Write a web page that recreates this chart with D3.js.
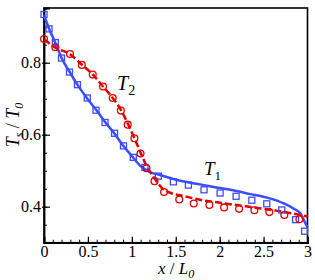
<!DOCTYPE html>
<html>
<head>
<meta charset="utf-8">
<script src="https://cdn.jsdelivr.net/npm/d3@7"></script>
<style>
  body { margin: 0; background: #fff; }
  text { font-family: "Liberation Serif", "DejaVu Serif", serif; fill: #000; }
</style>
</head>
<body>
<div id="chart"></div>
<script>
// T1 simulation (blue squares)
var t1X = [0, 0.057, 0.129, 0.199, 0.290, 0.381, 0.493, 0.592, 0.695, 0.803, 0.905, 1.017,
           1.150, 1.302, 1.473, 1.644, 1.822, 2.005, 2.187, 2.366, 2.536, 2.707, 2.864, 2.967];
var t1Y = [0.934, 0.894, 0.856, 0.813, 0.774, 0.739, 0.702, 0.668, 0.634, 0.604, 0.569, 0.537,
           0.509, 0.485, 0.469, 0.460, 0.447, 0.438, 0.429, 0.418, 0.408, 0.391, 0.364, 0.332];

// T2 simulation (red circles)
var t2X = [0, 0.129, 0.296, 0.431, 0.555, 0.672, 0.782, 0.875, 0.953, 1.029, 1.099, 1.167,
           1.258, 1.367, 1.540, 1.705, 1.883, 2.050, 2.221, 2.395, 2.566, 2.736, 2.908];
var t2Y = [0.866, 0.843, 0.824, 0.794, 0.767, 0.734, 0.702, 0.667, 0.628, 0.590, 0.548, 0.507,
           0.471, 0.441, 0.420, 0.409, 0.405, 0.398, 0.394, 0.390, 0.385, 0.377, 0.365];

// T1 model (blue solid line)
var line1X = [0, 0.06, 0.13, 0.2, 0.29, 0.38, 0.49, 0.6, 0.7, 0.8, 0.9, 1.0, 1.1, 1.2, 1.32,
              1.55, 1.78, 2.0, 2.12, 2.35, 2.57, 2.73, 2.84, 2.92, 2.97, 3.0];
var line1Y = [0.932, 0.893, 0.855, 0.813, 0.775, 0.739, 0.701, 0.667, 0.634, 0.604, 0.570, 0.541,
              0.513, 0.497, 0.488, 0.472, 0.462, 0.452, 0.447, 0.435, 0.423, 0.409, 0.395, 0.381,
              0.357, 0.343];

// T2 model (red dashed line)
var line2X = [0, 0.13, 0.3, 0.43, 0.56, 0.67, 0.78, 0.88, 0.96, 1.03, 1.1, 1.17, 1.25, 1.37,
              1.62, 1.8, 1.95, 2.12, 2.3, 2.5, 2.7, 2.92, 3.0];
var line2Y = [0.865, 0.842, 0.823, 0.795, 0.766, 0.734, 0.703, 0.667, 0.628, 0.590, 0.550, 0.512,
              0.482, 0.446, 0.428, 0.418, 0.413, 0.407, 0.401, 0.394, 0.387, 0.377, 0.373];

var xTicks = [0, 0.5, 1, 1.5, 2, 2.5, 3];
var xTickLabels = ["0", "0.5", "1", "1.5", "2", "2.5", "3"];
var yTicks = [0.4, 0.6, 0.8];
var yTickLabels = ["0.4", "0.6", "0.8"];

var blue = "#3b4dff", red = "#e00000";

var width = 315, height = 280;
var mLeft = 44, mRight = 307.5, mTop = 8, mBottom = 242.7;

var svg = d3.select("#chart")
    .append("svg")
    .attr("width", width)
    .attr("height", height);

var x = d3.scaleLinear().domain([0, 3]).range([mLeft, mRight]);
var y = d3.scaleLinear().domain([0.3, 0.952]).range([mBottom, mTop]);

// plot frame
svg.append("rect")
    .attr("x", mLeft).attr("y", mTop)
    .attr("width", mRight - mLeft).attr("height", mBottom - mTop)
    .attr("fill", "none").attr("stroke", "#000").attr("stroke-width", 1.6);

// x axis, ticks inward
var xAxis = d3.axisBottom(x).tickValues(xTicks).tickSize(-6)
    .tickFormat(function(d, i) { return xTickLabels[i]; });
var gx = svg.append("g")
    .attr("transform", "translate(0," + mBottom + ")")
    .call(xAxis);
gx.select(".domain").attr("stroke-width", 1.8);
gx.selectAll(".tick line").attr("stroke-width", 1.2);
gx.selectAll(".tick text")
    .attr("y", 14).attr("dy", null)
    .style("font-size", "16px").style("font-family", "Liberation Serif");

var xMinor = d3.axisBottom(x).tickValues(d3.range(0, 3.001, 0.1)).tickSize(-3).tickFormat("");
svg.append("g")
    .attr("transform", "translate(0," + mBottom + ")")
    .call(xMinor)
    .call(function(g) { g.select(".domain").remove(); });

// y axis, ticks inward
var yAxis = d3.axisLeft(y).tickValues(yTicks).tickSize(-6)
    .tickFormat(function(d, i) { return yTickLabels[i]; });
var gy = svg.append("g")
    .attr("transform", "translate(" + mLeft + ",0)")
    .call(yAxis);
gy.select(".domain").attr("stroke-width", 1.8);
gy.selectAll(".tick line").attr("x1", -2).attr("stroke-width", 1.2);
gy.selectAll(".tick text")
    .attr("x", -3)
    .style("font-size", "16px").style("font-family", "Liberation Serif");

var yMinor = d3.axisLeft(y).tickValues(d3.range(0.3, 0.951, 0.05)).tickSize(-3).tickFormat("");
svg.append("g")
    .attr("transform", "translate(" + mLeft + ",0)")
    .call(yMinor)
    .call(function(g) { g.select(".domain").remove(); });

// lines
var lineGen = d3.line()
    .x(function(d) { return x(d[0]); })
    .y(function(d) { return y(d[1]); })
    .curve(d3.curveMonotoneX);

svg.append("path")
    .datum(d3.zip(line1X, line1Y))
    .attr("d", lineGen)
    .attr("fill", "none")
    .attr("stroke", blue)
    .attr("stroke-width", 2.5);

svg.append("path")
    .datum(d3.zip(line2X, line2Y))
    .attr("d", lineGen)
    .attr("fill", "none")
    .attr("stroke", red)
    .attr("stroke-width", 2.5)
    .attr("stroke-dasharray", "7,3");

// markers
svg.selectAll(".sq")
    .data(d3.zip(t1X, t1Y))
    .enter()
    .append("rect")
    .attr("class", "sq")
    .attr("x", function(d) { return x(d[0]) - 3; })
    .attr("y", function(d) { return y(d[1]) - 3; })
    .attr("width", 6)
    .attr("height", 6)
    .attr("fill", "none")
    .attr("stroke", blue)
    .attr("stroke-width", 1.3);

svg.selectAll(".ci")
    .data(d3.zip(t2X, t2Y))
    .enter()
    .append("circle")
    .attr("class", "ci")
    .attr("cx", function(d) { return x(d[0]); })
    .attr("cy", function(d) { return y(d[1]); })
    .attr("r", 3.4)
    .attr("fill", "none")
    .attr("stroke", red)
    .attr("stroke-width", 1.3);

// curve labels
var lab2 = svg.append("text").attr("x", 117).attr("y", 90).style("font-size", "20px");
lab2.append("tspan").style("font-style", "italic").text("T");
lab2.append("tspan").attr("dy", 5).style("font-size", "14px").text("2");

var lab1 = svg.append("text").attr("x", 204).attr("y", 175).style("font-size", "19px");
lab1.append("tspan").style("font-style", "italic").text("T");
lab1.append("tspan").attr("dy", 5).style("font-size", "13px").text("1");

// axis titles
var xt = svg.append("text")
    .attr("x", 176).attr("y", 274)
    .attr("text-anchor", "middle")
    .style("font-size", "17px");
xt.append("tspan").style("font-style", "italic").text("x");
xt.append("tspan").text(" / ");
xt.append("tspan").style("font-style", "italic").text("L");
xt.append("tspan").attr("dy", 4).style("font-size", "12px").style("font-style", "italic").text("0");

var yt = svg.append("text")
    .attr("transform", "translate(19,125) rotate(-90)")
    .attr("text-anchor", "middle")
    .style("font-size", "18px");
yt.append("tspan").style("font-style", "italic").text("T");
yt.append("tspan").attr("dy", 4).style("font-size", "12px").style("font-style", "italic").text("s");
yt.append("tspan").attr("dy", -4).text(" / ");
yt.append("tspan").style("font-style", "italic").text("T");
yt.append("tspan").attr("dy", 4).style("font-size", "12px").style("font-style", "italic").text("0");
</script>
</body>
</html>
